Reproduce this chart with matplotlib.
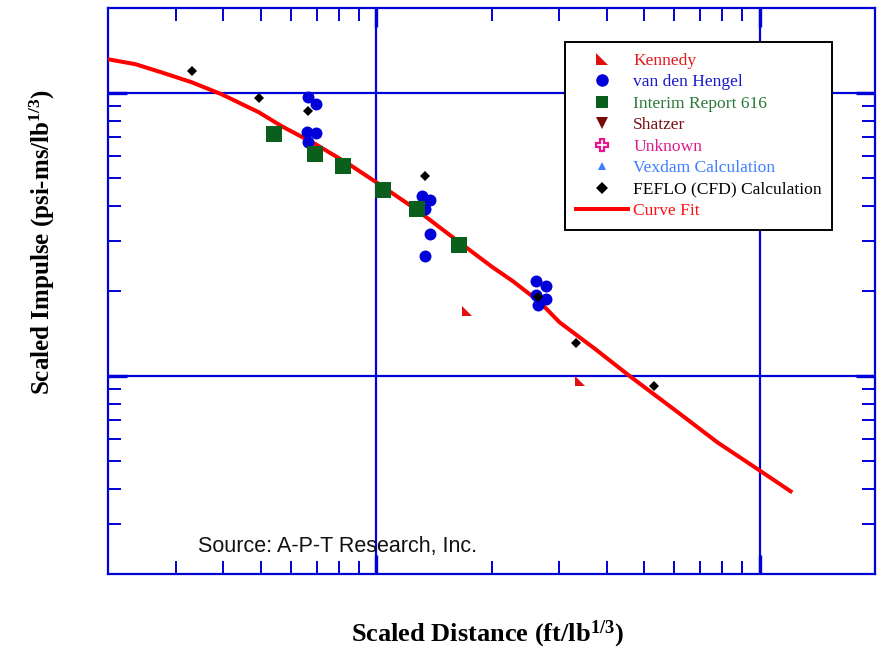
import numpy as np
import matplotlib
matplotlib.use("Agg")
import matplotlib.pyplot as plt
from matplotlib.lines import Line2D
from matplotlib.ticker import LogLocator, NullFormatter

plt.rcParams['font.family'] = ['Liberation Serif', 'DejaVu Serif']
plt.rcParams['mathtext.fontset'] = 'custom'
plt.rcParams['mathtext.rm'] = 'Liberation Serif:bold'
plt.rcParams['mathtext.it'] = 'Liberation Serif:bold'
plt.rcParams['mathtext.bf'] = 'Liberation Serif:bold'

# scaled distance (ft/lb^1/3) and scaled impulse (psi-ms/lb^1/3)
fit_x = [2.0, 2.36, 2.75, 3.30, 3.95, 4.94, 5.67, 6.96, 8.50, 10.0, 12.7, 16.5,
         20.1, 22.7, 26.7, 30.1, 37.2, 45.9, 63.2, 77.6, 100.6, 120.5]
fit_y = [131.8, 126.6, 118.6, 109.4, 99.2, 85.7, 76.5, 66.0, 56.1, 48.5, 38.9, 29.7,
         24.3, 21.7, 18.3, 15.5, 12.5, 10.0, 7.22, 5.84, 4.62, 3.92]

kennedy_x = [17.3, 34.0]
kennedy_y = [17.0, 9.64]

hengel_x = [6.64, 6.96, 6.60, 6.96, 6.64, 13.2, 13.8, 13.4, 13.8, 13.4,
            26.2, 27.7, 26.2, 27.7, 26.4]
hengel_y = [96.8, 91.4, 72.8, 72.2, 67.1, 43.3, 41.9, 38.9, 31.8, 26.5,
            21.7, 20.8, 19.3, 18.7, 17.8]

interim_x = [5.41, 6.92, 8.20, 10.4, 12.8, 16.5]
interim_y = [71.6, 60.9, 55.2, 45.4, 38.9, 29.0]

feflo_x = [3.32, 4.94, 6.64, 13.4, 26.4, 33.2, 53.1]
feflo_y = [119.6, 96.0, 86.4, 50.9, 19.0, 13.1, 9.22]

blue = '#0000d8'
green = '#0a5f1c'
tri = [(-1, 1), (-1, -1), (1, -1)]

fig = plt.figure(figsize=(8.79, 6.49), dpi=100)
ax = fig.add_axes([0.12287, 0.11556, 0.87258, 0.87211])
ax.set_xscale('log')
ax.set_yscale('log')
ax.set_xlim(2, 200)
ax.set_ylim(2, 200)

ax.plot(fit_x, fit_y, color='#ff0000', lw=2.9, zorder=3)
ax.plot(kennedy_x, kennedy_y, ls='none', marker=tri, ms=7.2, color='#e01010', mew=0, zorder=4)
ax.plot(hengel_x, hengel_y, ls='none', marker='o', ms=8.6, color=blue, mew=0, zorder=5)
ax.plot(interim_x, interim_y, ls='none', marker='s', ms=11, color=green, mew=0, zorder=6)
ax.plot(feflo_x, feflo_y, ls='none', marker='D', ms=5.4, color='black', mew=0, zorder=7)

# axes frame, grid and ticks in blue
for s in ax.spines.values():
    s.set_color(blue)
    s.set_linewidth(1.6)
ax.xaxis.set_major_locator(LogLocator(base=10, numticks=10))
ax.yaxis.set_major_locator(LogLocator(base=10, numticks=10))
ax.xaxis.set_minor_locator(LogLocator(base=10, subs=np.arange(2, 10), numticks=20))
ax.yaxis.set_minor_locator(LogLocator(base=10, subs=np.arange(2, 10), numticks=20))
ax.xaxis.set_minor_formatter(NullFormatter())
ax.yaxis.set_minor_formatter(NullFormatter())
ax.grid(True, which='major', color=blue, lw=1.6)
ax.set_axisbelow(True)
ax.tick_params(which='both', direction='in', top=True, right=True, color=blue,
               labelbottom=False, labelleft=False)
ax.tick_params(which='major', length=14, width=2.4)
ax.tick_params(which='minor', length=9.5, width=1.4)

fig.text(198 / 879, 1 - 552 / 649, 'Source: A-P-T Research, Inc.', family='Liberation Sans',
         fontsize=15.5, color='#111111', ha='left', va='baseline')

fig.text(487 / 879, 1 - 641 / 649, 'Scaled Distance (ft/lb$^{1/3}$)', fontsize=19,
         fontweight='bold', ha='center', va='baseline')
fig.text(50 / 879, 1 - 242 / 649, 'Scaled Impulse (psi-ms/lb$^{1/3}$)', fontsize=18,
         fontweight='bold', rotation=90, rotation_mode='anchor', ha='center', va='baseline')

handles = [
    Line2D([], [], ls='none', marker=tri, ms=8.5, color='#e01010', mew=0),
    Line2D([], [], ls='none', marker='o', ms=9, color=blue, mew=0),
    Line2D([], [], ls='none', marker='s', ms=9, color=green, mew=0),
    Line2D([], [], ls='none', marker='v', ms=8.5, color='#7a0a0a', mew=0),
    Line2D([], [], ls='none', marker='P', ms=8, mfc='white', mec='#e8168c', mew=1.6),
    Line2D([], [], ls='none', marker='^', ms=6, color='#3f7fff', mew=0),
    Line2D([], [], ls='none', marker='D', ms=6, color='black', mew=0),
    Line2D([], [], color='#ff0000', lw=2.9),
]
labels = ['Kennedy', 'van den Hengel', 'Interim Report 616', 'Shatzer', 'Unknown',
          'Vexdam Calculation', 'FEFLO (CFD) Calculation', 'Curve Fit']
label_colors = ['#e31a1c', '#1a1acc', '#2a7a3a', '#7a1010', '#e0198c', '#3d7dff',
                'black', '#ff1010']
leg = ax.legend(handles, labels, loc='upper left', bbox_to_anchor=(565 / 879, 1 - 42 / 649),
                bbox_transform=fig.transFigure, borderaxespad=0, fontsize=12.6,
                labelcolor=label_colors, handlelength=3.0, handletextpad=0.3,
                labelspacing=0.3, borderpad=0.6, fancybox=False, framealpha=1,
                edgecolor='black')
leg.get_frame().set_linewidth(1.4)

fig.savefig('out.png', dpi=100)
